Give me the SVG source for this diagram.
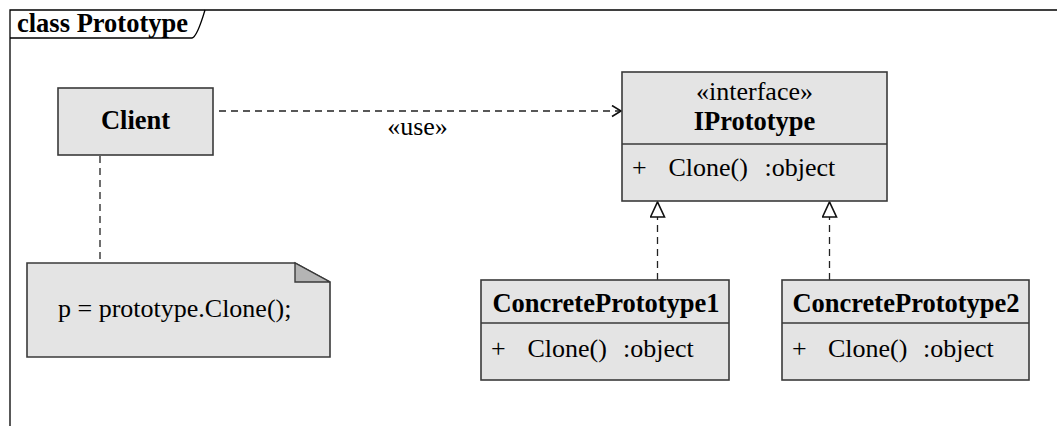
<svg xmlns="http://www.w3.org/2000/svg" width="1057" height="426" viewBox="0 0 1057 426">
<defs>
<style>
text{font-family:"Liberation Serif","Times New Roman",serif;fill:#000;font-size:26px}
.b{font-weight:bold;font-size:26.5px}
.box{fill:#e4e4e4;stroke:#3a3a3a;stroke-width:1.6}
.sep{stroke:#3a3a3a;stroke-width:1.6}
.dash{fill:none;stroke:#222;stroke-width:1.3;stroke-dasharray:7,5}
.frame{fill:none;stroke:#000;stroke-width:1.3}
.mid{text-anchor:middle}
</style>
<marker id="open" markerWidth="12" markerHeight="14" refX="10" refY="6" orient="auto" markerUnits="userSpaceOnUse">
<path d="M1,0.5 L10,6 L1,11.5" fill="none" stroke="#111" stroke-width="1.6"/>
</marker>
<marker id="tri" markerWidth="18" markerHeight="18" refX="16" refY="8" orient="auto" markerUnits="userSpaceOnUse">
<path d="M1,1 L16,8 L1,15 Z" fill="#fff" stroke="#111" stroke-width="1.6"/>
</marker>
</defs>
<rect x="0" y="0" width="1057" height="426" fill="#fff"/>
<g id="frame">
<path class="frame" d="M10,426 V10 H1057"/>
<path class="frame" d="M10,38 H192 Q197,37 205,10"/>
<text class="b" x="17" y="32">class Prototype</text>
</g>
<g id="connectors">
<line class="dash" x1="219" y1="111" x2="621" y2="111" marker-end="url(#open)"/>
<text class="mid" x="417.5" y="135">«use»</text>
<line class="dash" x1="100" y1="156" x2="100" y2="263"/>
<line class="dash" x1="657.5" y1="280" x2="657.5" y2="202" marker-end="url(#tri)"/>
<line class="dash" x1="829.5" y1="280" x2="829.5" y2="202" marker-end="url(#tri)"/>
</g>
<g id="client">
<rect class="box" x="58" y="88" width="155" height="67"/>
<text class="b mid" x="135.5" y="129">Client</text>
</g>
<g id="note">
<path class="box" d="M27,263 H295 L330,282 V357 H27 Z"/>
<path d="M295,263 V282 H330 Z" fill="#b4b4b4" stroke="#3a3a3a" stroke-width="1.4"/>
<text x="58" y="317">p = prototype.Clone();</text>
</g>
<g id="iprototype">
<rect class="box" x="622" y="72" width="265" height="129"/>
<line class="sep" x1="622" y1="144" x2="887" y2="144"/>
<text class="mid" x="754.5" y="100">«interface»</text>
<text class="b mid" x="754.5" y="130">IPrototype</text>
<text y="176"><tspan x="632">+</tspan><tspan x="668.5">Clone()</tspan><tspan x="764.5">:object</tspan></text>
</g>
<g id="concrete1">
<rect class="box" x="481" y="280" width="248" height="100"/>
<line class="sep" x1="481" y1="323" x2="729" y2="323"/>
<text class="b mid" x="606" y="312">ConcretePrototype1</text>
<text y="357"><tspan x="491">+</tspan><tspan x="527.5">Clone()</tspan><tspan x="623">:object</tspan></text>
</g>
<g id="concrete2">
<rect class="box" x="782" y="280" width="247" height="100"/>
<line class="sep" x1="782" y1="323" x2="1029" y2="323"/>
<text class="b mid" x="906" y="312">ConcretePrototype2</text>
<text y="357"><tspan x="792">+</tspan><tspan x="828">Clone()</tspan><tspan x="923">:object</tspan></text>
</g>
</svg>
